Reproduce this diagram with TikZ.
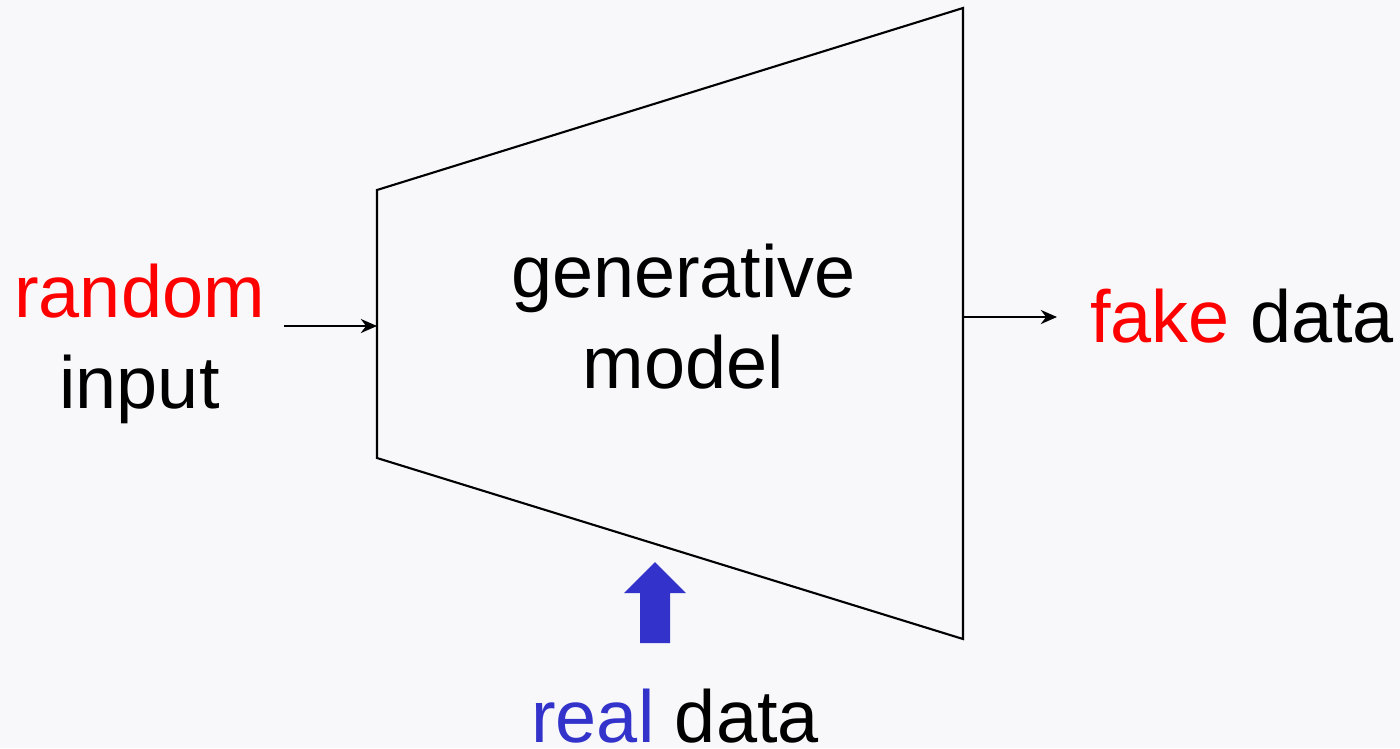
\documentclass[tikz,border=0pt]{standalone}
\usepackage{fontspec}
\setmainfont{Liberation Sans}
\usetikzlibrary{arrows.meta}
\definecolor{bggray}{HTML}{F8F8FA}
\definecolor{fakered}{HTML}{FF0000}
\definecolor{realblue}{HTML}{3333CC}
\tikzset{
	every path/.style={line width=0.6pt},
	label text/.style={
		font=\fontsize{21}{25.6}\selectfont,
		align=center,
		inner sep=0pt,
	},
	thin arrow/.style={
		-{Stealth[length=4.6pt,width=4pt]}
	},
	block arrow/.style={
		fill=realblue,
		draw=none,
	},
}

\begin{document}
\begin{tikzpicture}
[x=0.01cm, y=-0.01cm]
% page and background
\useasboundingbox (0,0) rectangle (1400,748);
\fill[bggray] (0,0) rectangle (1400,748);
% the generator
\coordinate (lt) at (377,190);
\coordinate (rt) at (963,8);
\coordinate (rb) at (963,639);
\coordinate (lb) at (377,458);
\draw[line join=miter] (lt) -- (rt) -- (rb) -- (lb) -- cycle;
\node [label text, anchor=base] (gen) at (683.5,388) {generative\\model};
% input side
\node [label text, anchor=base] (rnd) at (139.5,408) {\textcolor{fakered}{random}\\input};
\coordinate (inl) at (284,326);
\coordinate (inr) at (377,326);
\draw[thin arrow] (inl) -- (inr);
% output side
\coordinate (outl) at (963,317);
\coordinate (outr) at (1057,317);
\draw[thin arrow] (outl) -- (outr);
\node [label text, anchor=base west] (fake) at (1089,342) {\textcolor{fakered}{fake} data};
% real data push
\node [label text, anchor=base] (real) at (675,742) {\textcolor{realblue}{real} data};
\coordinate (tip) at (655,562);
\fill[block arrow] (tip) -- ++(31,31) -- ++(-16,0) -- ++(0,50) -- ++(-30,0) -- ++(0,-50) -- ++(-16,0) -- cycle;
\end{tikzpicture}
\end{document}
